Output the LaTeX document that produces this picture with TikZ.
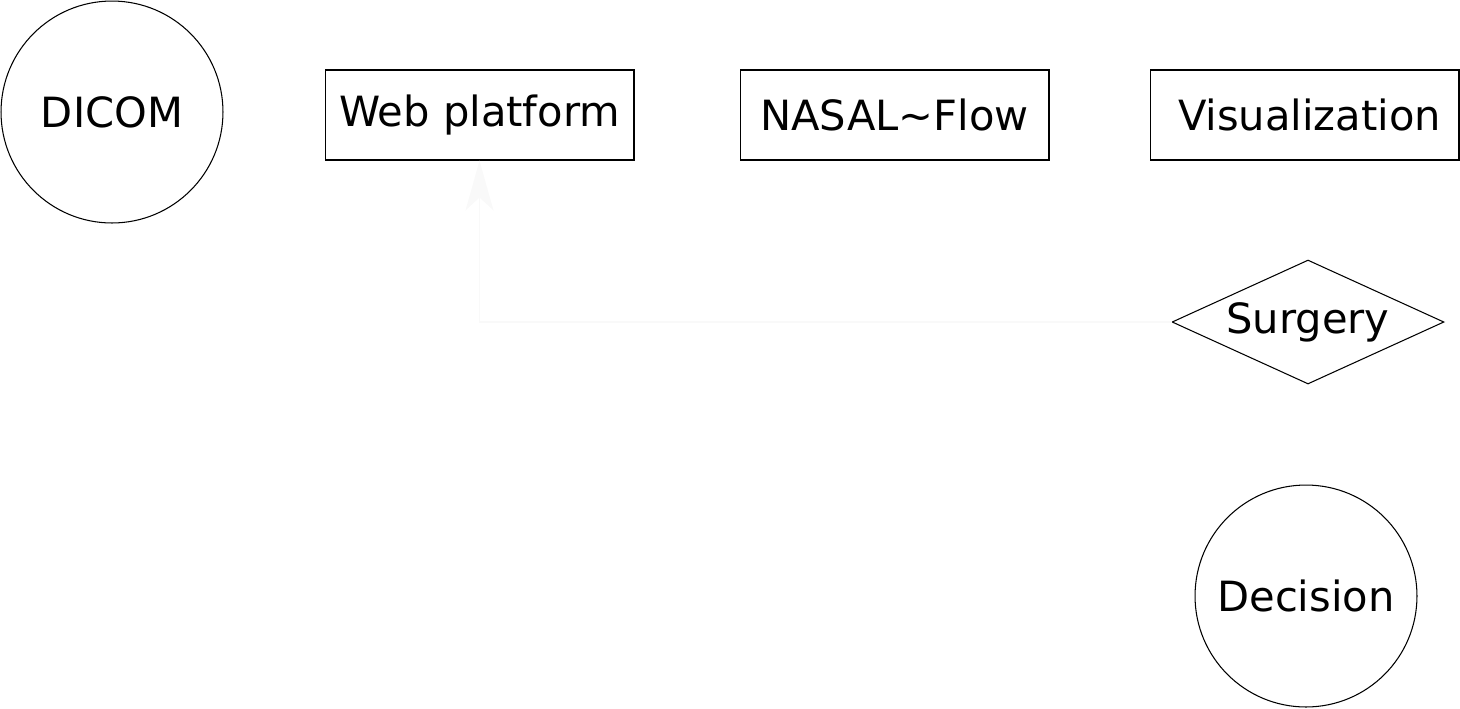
\documentclass[tikz,border=0pt]{standalone}
\usepackage{fontspec}
\setmainfont{DejaVu Sans}
\usetikzlibrary{shapes.geometric,arrows.meta}
\definecolor{faintgray}{RGB}{249,249,249}
\tikzset{
  box/.style={draw,line width=0.6pt,minimum width=6.18cm,minimum height=1.8cm,inner sep=0pt},
  roundnode/.style={draw,circle,line width=0.6pt,minimum size=4.44cm,inner sep=0pt},
  choice/.style={draw,diamond,aspect=2.19,line width=0.6pt,minimum width=5.44cm,minimum height=2.48cm,inner sep=0pt},
  faintarrow/.style={draw=faintgray,line width=1.1pt,-{Stealth[length=1cm,width=0.56cm,inset=0.26cm]}}
}
\begin{document}
\begin{tikzpicture}[x=0.02cm,y=-0.02cm,font=\fontsize{23.7}{28}\selectfont]
\useasboundingbox (0,0) rectangle (1460,708);

\node [roundnode] (dicom) at (112,112) {DICOM};
\node [box] (web) at (479.5,115) {Web platform};
\node [box] (nasal) at (894.5,115) {NASAL\textasciitilde Flow};
\node [box] (vis) at (1304.5,115) {\hspace{0.2cm}Visualization};

\node [choice] (surgery) at (1308,322) {Surgery};
\node [roundnode] (decision) at (1306,596) {Decision};

\draw [faintarrow] (surgery.west) -| (web.south);
\end{tikzpicture}
\end{document}
